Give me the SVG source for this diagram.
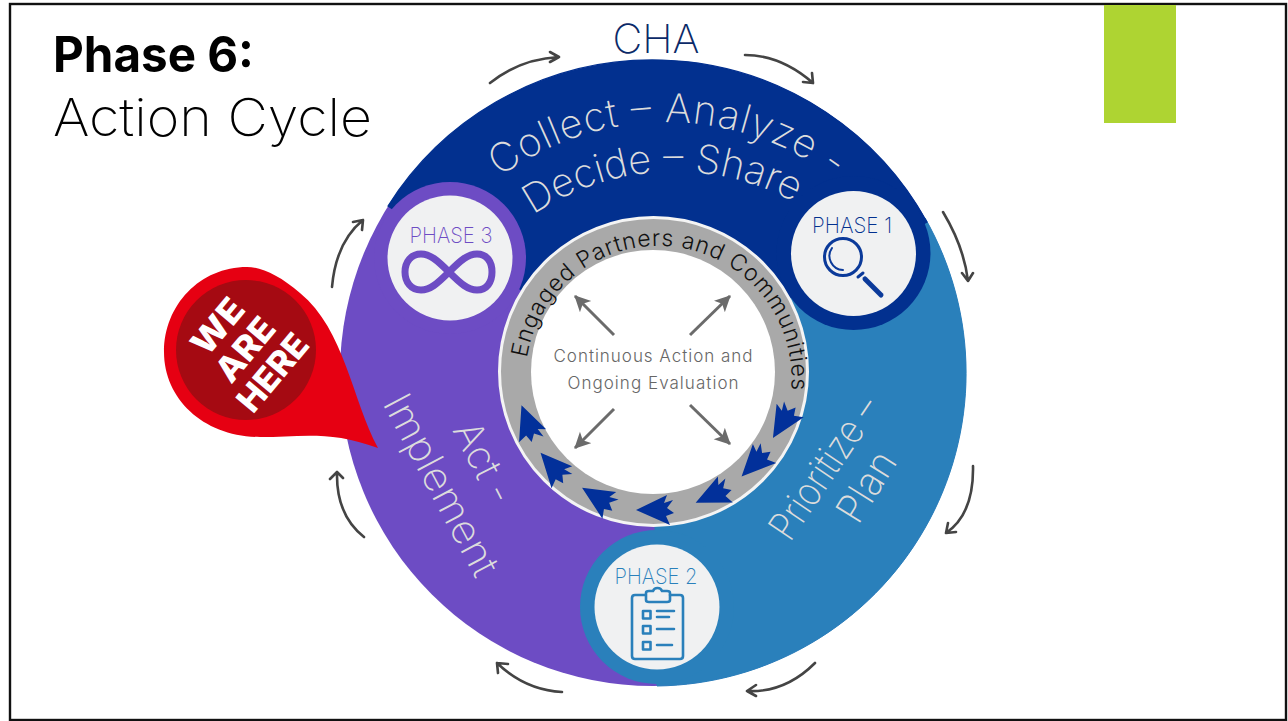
<svg xmlns="http://www.w3.org/2000/svg" xmlns:xlink="http://www.w3.org/1999/xlink" width="1288" height="721" viewBox="0 0 1288 721">
<style>
text{font-family:"Inter","Liberation Sans",sans-serif}
.seg{font-size:40px;font-weight:200;fill:#dcdcdc}
.ph{font-size:22px;font-weight:200}
.cyc{fill:none;stroke:#444;stroke-width:2.6;stroke-linecap:round;stroke-linejoin:round}
.ga{fill:none;stroke:#6b6b6b;stroke-width:3}
.ic{fill:none;stroke-linecap:round;stroke-linejoin:round}
.lab{fill:#f0f1f2}
</style>
<defs>
<marker id="gh" markerUnits="userSpaceOnUse" markerWidth="20" markerHeight="20" refX="15" refY="8" orient="auto"><path d="M0 0L16 8L0 16L4 8Z" fill="#6b6b6b"/></marker>
<polygon id="tree" points="0,-19 15,12 7,9 10,18 2,12 -3,19 -6,11 -15,15" fill="#02309a"/>
<path id="p1" d="M500 177A280 280 0 0 1 870 210"/>
<path id="p2" d="M533 215A251 251 0 0 1 830 226"/>
<path id="p3" d="M527 358A129 129 0 1 1 790 400"/>
</defs>
<rect width="1288" height="721" fill="#fff"/>
<rect x="10" y="4" width="1276" height="716" fill="none" stroke="#111" stroke-width="2.4"/>
<rect id="accent" x="1104" y="5" width="72" height="118" fill="#aed432"/>
<g id="title">
<text x="53" y="72" font-size="49" font-weight="700" fill="#000" textLength="201" lengthAdjust="spacingAndGlyphs">Phase 6:</text>
<text x="53" y="136" font-size="52" font-weight="200" fill="#000" textLength="319" lengthAdjust="spacingAndGlyphs">Action Cycle</text>
</g>
<text id="cha" x="656" y="53" font-size="40" font-weight="200" fill="#0b2a68" text-anchor="middle" textLength="87" lengthAdjust="spacingAndGlyphs">CHA</text>
<g id="act-implement">
<circle cx="653" cy="373" r="313" fill="#6d4cc4"/>
<text class="seg" transform="translate(452 430) rotate(63)" textLength="87">Act -</text>
<text class="seg" transform="translate(382 403) rotate(62)" textLength="200" lengthAdjust="spacingAndGlyphs">Implement</text>
</g>
<g id="prioritize-plan">
<path d="M653 373L657 686A313 313 0 0 0 925 218Z" fill="#2a80bb" stroke="#2a80bb" stroke-width="1"/>
<circle cx="657" cy="607" r="77" fill="#2a80bb"/>
<text class="seg" transform="translate(790 543) rotate(-56)" textLength="163" lengthAdjust="spacingAndGlyphs">Prioritize –</text>
<text class="seg" transform="translate(858 526) rotate(-58)" textLength="76" lengthAdjust="spacingAndGlyphs">Plan</text>
</g>
<g id="collect">
<path d="M653 373L388 206A313 313 0 0 1 927 222Z" fill="#02308f" stroke="#02308f" stroke-width="1.2"/>
<circle cx="853.500" cy="253" r="77" fill="#02308f"/>
<text class="seg"><textPath href="#p1" textLength="358">Collect – Analyze -</textPath></text>
<text class="seg"><textPath href="#p2" textLength="275">Decide – Share</textPath></text>
</g>
<g id="phase-1">
<circle cx="853.500" cy="253.500" r="62.500" class="lab"/>
<text class="ph" x="852" y="233" text-anchor="middle" fill="#02308f" textLength="80" lengthAdjust="spacingAndGlyphs">PHASE 1</text>
<g class="ic" stroke="#0b3a9a">
<circle cx="843" cy="257" r="18.500" stroke-width="3"/>
<path d="M832 248A14 14 0 0 0 843 270" stroke-width="2"/>
<path d="M858 277L863 273" stroke-width="3"/>
<path d="M865 279L881 295" stroke-width="5"/>
</g>
</g>
<g id="phase-3">
<circle cx="450" cy="258" r="76" fill="#6d4cc4"/>
<circle cx="450" cy="258" r="62.500" class="lab"/>
<text class="ph" x="451" y="243" text-anchor="middle" fill="#6d4cc4" textLength="83" lengthAdjust="spacingAndGlyphs">PHASE 3</text>
<path class="ic" stroke="#6d4cc4" stroke-width="7" d="M449 272C437 260 430 254 421 254C411 254 405 262 405 272C405 282 411 290 421 290C430 290 437 284 449 272C461 260 468 254 477 254C487 254 492 262 492 272C492 282 487 290 477 290C468 290 461 284 449 272Z"/>
</g>
<g id="phase-2">
<circle cx="657" cy="607" r="62.500" class="lab"/>
<text class="ph" x="656" y="584" text-anchor="middle" fill="#2a80bb" textLength="83" lengthAdjust="spacingAndGlyphs">PHASE 2</text>
<g class="ic" stroke="#2a80bb">
<path d="M645 595H635Q632 595 632 598V656Q632 659 635 659H680Q683 659 683 656V598Q683 595 680 595H670" stroke-width="2.600"/>
<path d="M646 593Q646 591 649 591H653Q654 588 657.500 588Q661 588 662 591H667Q670 591 670 593V600Q670 602 667 602H649Q646 602 646 600Z" stroke-width="2.600"/>
<g stroke-width="2.600">
<rect x="643" y="611" width="7.500" height="7.500"/><rect x="643" y="626" width="7.500" height="7.500"/><rect x="643" y="642" width="7.500" height="7.500"/>
<path d="M657 611H674M657 617H669M657 629H674M657 645H672"/>
</g>
</g>
</g>
<g id="center-ring">
<circle cx="653.500" cy="371.500" r="154" fill="#a9a9a9" stroke="#f4f4f4" stroke-width="3"/>
<circle cx="653" cy="372" r="122" fill="#fff"/>
<text font-size="23" font-weight="300" fill="#111"><textPath href="#p3" textLength="408">Engaged Partners and Communities</textPath></text>
<text x="653" y="362" font-size="17" font-weight="300" fill="#666" text-anchor="middle" textLength="199">Continuous Action and</text>
<text x="653" y="389" font-size="17" font-weight="300" fill="#666" text-anchor="middle" textLength="171">Ongoing Evaluation</text>
<use href="#tree" transform="translate(783 422) rotate(-148)"/>
<use href="#tree" transform="translate(755 463) rotate(-135)"/>
<use href="#tree" transform="translate(713 495) rotate(-114)"/>
<use href="#tree" transform="translate(655 510) rotate(-90)"/>
<use href="#tree" transform="translate(598 498) rotate(-57)"/>
<use href="#tree" transform="translate(553 467) rotate(-41)"/>
<use href="#tree" transform="translate(528 423) rotate(-20)"/>
</g>
<g id="connectors">
<path class="ga" marker-end="url(#gh)" d="M614 335L575 296"/>
<path class="ga" marker-end="url(#gh)" d="M690 335L730 296"/>
<path class="ga" marker-end="url(#gh)" d="M614 409L575 448"/>
<path class="ga" marker-end="url(#gh)" d="M690 405L730 444"/>
<path class="cyc" d="M490 83Q520 59 559 57M550 52L559 57L550 62"/>
<path class="cyc" d="M745 55Q781 55 813 83M803 82L813 83L812 73"/>
<path class="cyc" d="M943 212Q964 247 968 281M962 273L968 281L973 273"/>
<path class="cyc" d="M973 466Q974 514 946 533M948 523L946 533L956 532"/>
<path class="cyc" d="M815 663Q785 693 747 691M756 685L747 691L756 696"/>
<path class="cyc" d="M562 692Q525 690 497 663M508 664L497 663L498 673"/>
<path class="cyc" d="M364 537Q336 515 337 472M330 479L337 472L343 478"/>
<path class="cyc" d="M332 287Q336 242 363 220M353 222L363 220L362 230"/>
</g>
<g id="we-are-here">
<path d="M378 448C352 400 345 330 300 293C280 276 262 267 247 267C200 267 164 305 164 352C164 400 205 437 260 437C300 437 330 430 378 448Z" fill="#e60012"/>
<circle cx="246" cy="350" r="70" fill="#a50a12"/>
<g transform="rotate(-50 246 350)" font-size="34" font-weight="800" fill="#fff" text-anchor="middle">
<text x="246" y="325" textLength="62" lengthAdjust="spacingAndGlyphs">WE</text>
<text x="246" y="361" textLength="72" lengthAdjust="spacingAndGlyphs">ARE</text>
<text x="246" y="397" textLength="90" lengthAdjust="spacingAndGlyphs">HERE</text>
</g>
</g>
</svg>
